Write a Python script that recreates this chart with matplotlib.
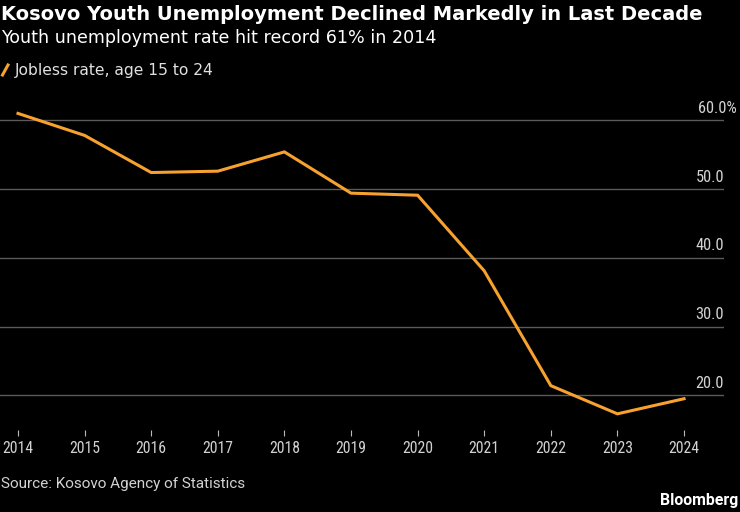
import matplotlib
matplotlib.use("Agg")
import matplotlib.pyplot as plt
import matplotlib.transforms as mtransforms
from matplotlib import font_manager as fm

years = [2014, 2015, 2016, 2017, 2018, 2019, 2020, 2021, 2022, 2023, 2024]
jobless_rate = [61.0, 57.8, 52.4, 52.6, 55.4, 49.4, 49.1, 38.1, 21.4, 17.3, 19.5]
y_ticks = [20, 30, 40, 50, 60]
y_tick_labels = ["20.0", "30.0", "40.0", "50.0", "60.0%"]

title = "Kosovo Youth Unemployment Declined Markedly in Last Decade"
subtitle = "Youth unemployment rate hit record 61% in 2014"
legend_label = "Jobless rate, age 15 to 24"
source = "Source: Kosovo Agency of Statistics"

names = {f.name for f in fm.fontManager.ttflist}
narrow_candidates = ['Liberation Sans Narrow', 'Roboto Condensed', 'Open Sans Condensed',
                     'DejaVu Sans Condensed', 'Noto Sans Condensed']
NARROW = [n for n in narrow_candidates if n in names] + ['DejaVu Sans']
ROBOTO = ['Roboto', 'DejaVu Sans']
DEJAVU = ['DejaVu Sans']

ORANGE = '#F7A12F'
BG = '#000000'
LABEL = '#d2d2d2'

W, H = 740, 512
fig = plt.figure(figsize=(W / 100, H / 100), dpi=100, facecolor=BG)

def fy(px):
    return 1 - px / H

ax_left, ax_right, ax_top, ax_bottom = 0, 724, 100, 430
ax = fig.add_axes([ax_left / W, fy(ax_bottom), (ax_right - ax_left) / W, (ax_bottom - ax_top) / H])
ax.set_facecolor(BG)

ax.plot(years, jobless_rate, color=ORANGE, lw=2.2, solid_joinstyle='miter', zorder=3)

ax.set_xlim(2013.73, 2024.60)
ax.set_ylim(14.95, 62.95)

for s in ax.spines.values():
    s.set_visible(False)

ax.set_yticks(y_ticks)
ax.set_yticklabels([])
ax.tick_params(axis='y', length=0)
ax.grid(axis='y', color='#5a5a5a', lw=1.0, zorder=1)

ax.set_xticks(years)
ax.set_xticklabels([str(y) for y in years], fontfamily=NARROW, fontsize=11.3, color=LABEL)
ax.tick_params(axis='x', length=4.5, width=0.8, color='#bbbbbb', pad=3.5)

trans = mtransforms.blended_transform_factory(ax.transAxes, ax.transData)
for v, lab in zip(y_ticks, y_tick_labels):
    dx = 9.5 if lab.endswith('%') else 0
    ax.annotate(lab, xy=(1, v), xycoords=trans, xytext=(dx, 5.3), textcoords='offset points',
                ha='right', va='baseline', fontsize=11.8, color=LABEL, family=NARROW,
                annotation_clip=False)

fig.text(1 / W, fy(19.5), title, fontsize=14, fontweight='bold', color='white',
         family=DEJAVU, va='baseline', ha='left')
fig.text(1 / W, fy(42.7), subtitle, fontsize=12.6, color='white', family=DEJAVU,
         va='baseline', ha='left')

fig.add_artist(plt.Line2D([2.5 / W, 8 / W], [fy(75), fy(65)], color=ORANGE, lw=2.2,
                          transform=fig.transFigure))
fig.text(15 / W, fy(75), legend_label, fontsize=11.2, color='#e0e0e0', family=DEJAVU,
         va='baseline', ha='left')

fig.text(1 / W, fy(487.7), source, fontsize=11, color=LABEL, family=ROBOTO,
         va='baseline', ha='left')
fig.text(738 / W, fy(505), "Bloomberg", fontsize=11.4, fontweight='bold', color='white',
         family=ROBOTO, va='baseline', ha='right')

fig.savefig('out.png', dpi=100, facecolor=BG)
